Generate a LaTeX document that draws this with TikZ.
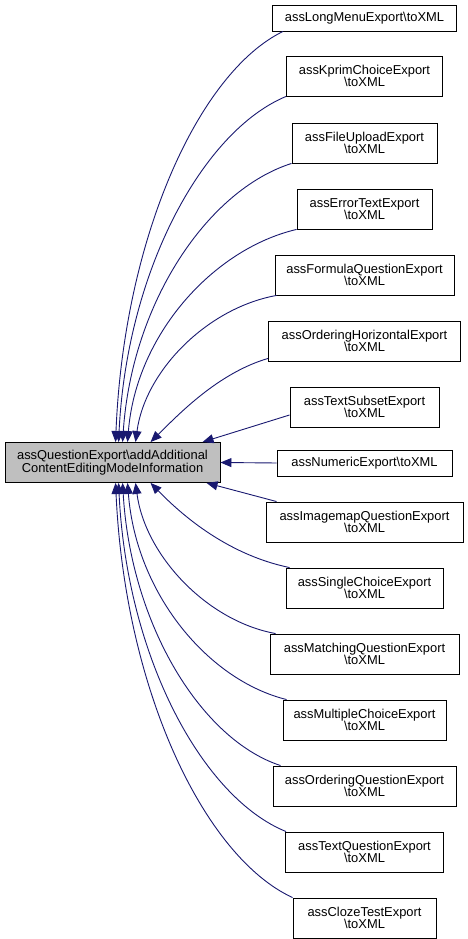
\documentclass[tikz,border=0pt]{standalone}
\usepackage{fontspec}
\setmainfont{Liberation Sans}
\usetikzlibrary{arrows.meta,calc}
\definecolor{edgeblue}{RGB}{25,25,112}
\definecolor{maingray}{RGB}{191,191,191}
\begin{document}
\begin{tikzpicture}[x=1pt,y=1pt,
  box/.style={draw=black, line width=0.9pt, fill=white, align=center, inner sep=0pt,
    minimum height=40pt, font=\fontsize{12.9}{12.6}\selectfont},
  onebox/.style={box, minimum height=26pt},
  edge/.style={draw=edgeblue, line width=0.9pt, -{Triangle[length=11pt,width=9pt]}},
]
\useasboundingbox (0,0) rectangle (468,939);

\node[box, fill=maingray, minimum width=215pt, minimum height=40pt] (main) at (112.5,476.5)
  {assQuestionExport\textbackslash addAdditional\\ContentEditingModeInformation};

\node[onebox, minimum width=184pt] (b1) at (364.5,921) {assLongMenuExport\textbackslash toXML};
\node[box, minimum width=156pt] (b2) at (364.5,863) {assKprimChoiceExport\\\textbackslash toXML};
\node[box, minimum width=145pt] (b3) at (364.5,796) {assFileUploadExport\\\textbackslash toXML};
\node[box, minimum width=135pt] (b4) at (364.5,730) {assErrorTextExport\\\textbackslash toXML};
\node[box, minimum width=179pt] (b5) at (364.5,664) {assFormulaQuestionExport\\\textbackslash toXML};
\node[box, minimum width=192pt] (b6) at (364.5,598) {assOrderingHorizontalExport\\\textbackslash toXML};
\node[box, minimum width=149pt] (b7) at (364.5,532) {assTextSubsetExport\\\textbackslash toXML};
\node[onebox, minimum width=175pt] (b8) at (364.5,476) {assNumericExport\textbackslash toXML};
\node[box, minimum width=197pt] (b9) at (364.5,417) {assImagemapQuestionExport\\\textbackslash toXML};
\node[box, minimum width=157pt] (b10) at (364.5,351) {assSingleChoiceExport\\\textbackslash toXML};
\node[box, minimum width=189pt] (b11) at (364.5,285) {assMatchingQuestionExport\\\textbackslash toXML};
\node[box, minimum width=163pt] (b12) at (364.5,219) {assMultipleChoiceExport\\\textbackslash toXML};
\node[box, minimum width=183pt] (b13) at (364.5,153) {assOrderingQuestionExport\\\textbackslash toXML};
\node[box, minimum width=158pt] (b14) at (364.5,87) {assTextQuestionExport\\\textbackslash toXML};
\node[box, minimum width=143pt] (b15) at (364.5,21) {assClozeTestExport\\\textbackslash toXML};

% upper edges
\draw[edge] ($(b1.south west)+(11,0)$) .. controls (199.5,867) and (124,703) .. ($(main.north west)+(111,0)$);
\draw[edge] (b2.south west) .. controls (203,808) and (127,669) .. ($(main.north west)+(114,0)$);
\draw[edge] (b3.south west) .. controls (208,749) and (132,637) .. ($(main.north west)+(118,0)$);
\draw[edge] (b4.south west) .. controls (213,690) and (136,604) .. ($(main.north west)+(123,0)$);
\draw[edge] ($(b5.south west)+(2,0)$) .. controls (207,631) and (145,568) .. ($(main.north west)+(131,0)$);
\draw[edge] ($(b6.south west)+(0,3)$) .. controls (218,566) and (178,524) .. ($(main.north west)+(146,0)$);
\draw[edge] ($(b7.west)+(0,-8)$) -- ($(main.north west)+(198,0)$);
% middle
\draw[edge] (b8.west) -- (main.east);
% lower edges
\draw[edge] ($(b9.north west)+(11,0)$) -- ($(main.south west)+(202,0)$);
\draw[edge] ($(b10.north west)+(4,0)$) .. controls (224,385) and (178,428) .. ($(main.south west)+(146,0)$);
\draw[edge] ($(b11.north west)+(6,0)$) .. controls (206.5,318) and (145,384) .. ($(main.south west)+(131,0)$);
\draw[edge] ($(b12.north west)+(4,0)$) .. controls (207.5,259) and (136,346) .. ($(main.south west)+(123,0)$);
\draw[edge] ($(b13.north west)+(8,0)$) .. controls (202,199) and (131,313) .. ($(main.south west)+(118,0)$);
\draw[edge] ($(b14.north west)+(1,0)$) .. controls (203,141) and (127,280.5) .. ($(main.south west)+(114,0)$);
\draw[edge] (b15.north west) .. controls (204.5,82) and (125,248) .. ($(main.south west)+(111,0)$);
\end{tikzpicture}
\end{document}
